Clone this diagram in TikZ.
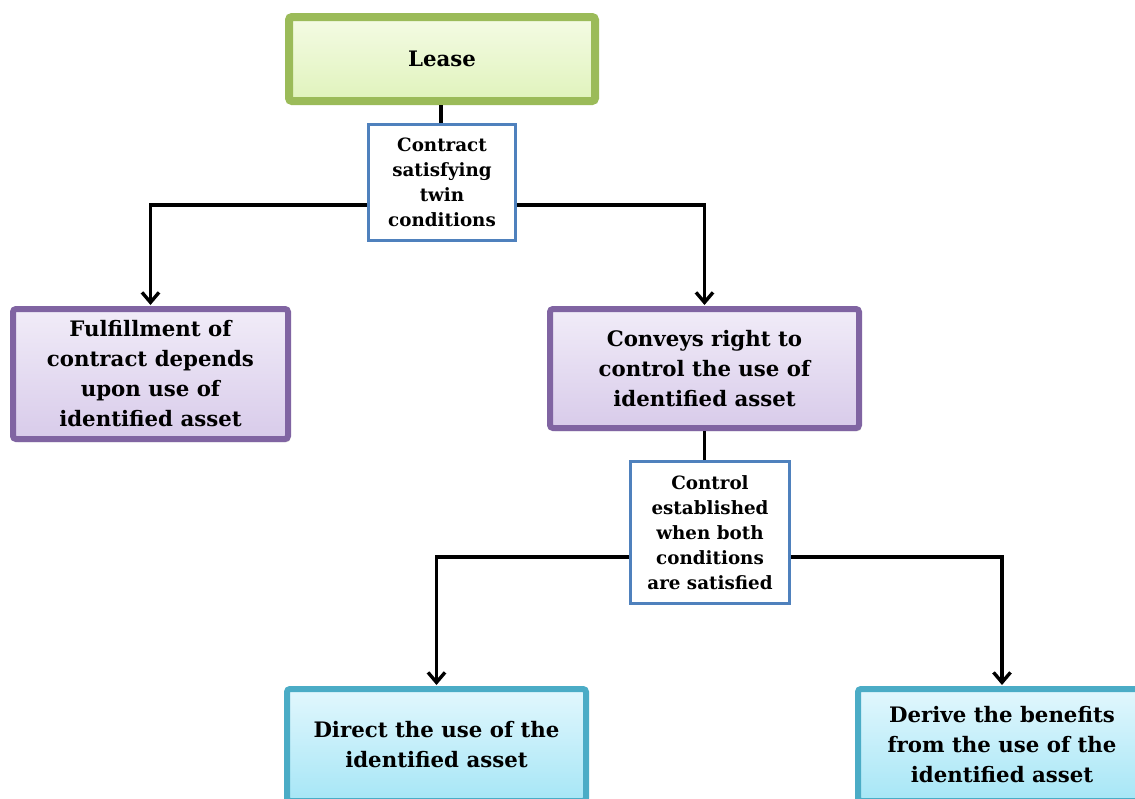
\documentclass[tikz,border=0pt]{standalone}
\usepackage{fontspec}
\setmainfont{DejaVu Serif}
\usetikzlibrary{arrows.meta,shadows,calc}
\definecolor{gborder}{HTML}{9BBB59}
\definecolor{gtop}{HTML}{F4FBE4}
\definecolor{gbot}{HTML}{E0F3BC}
\definecolor{pborder}{HTML}{8064A2}
\definecolor{ptop}{HTML}{F1ECF8}
\definecolor{pbot}{HTML}{D8CBEA}
\definecolor{cborder}{HTML}{4BACC6}
\definecolor{ctop}{HTML}{E2F7FD}
\definecolor{cbot}{HTML}{A6E6F6}
\definecolor{bborder}{HTML}{4F81BD}
\tikzset{
  x=1pt,y=-1pt,
  bigbox/.style={draw, rounded corners=3pt, align=center, font=\bfseries\fontsize{21.3}{30}\selectfont,
    inner sep=0pt, drop shadow={shadow xshift=2pt,shadow yshift=-3pt,opacity=0.35}},
  greenbox/.style={bigbox, draw=gborder, line width=8pt, top color=gtop, bottom color=gbot},
  purplebox/.style={bigbox, draw=pborder, line width=6pt, top color=ptop, bottom color=pbot},
  cyanbox/.style={bigbox, draw=cborder, line width=6pt, top color=ctop, bottom color=cbot},
  smallbox/.style={draw=bborder, line width=3pt, fill=white, align=center, inner sep=0pt,
    font=\bfseries\fontsize{18.3}{25}\selectfont},
  conn/.style={line width=3.2pt, black},
  arr/.style={conn, -{Straight Barb[length=10pt,width=17pt,line width=3.4pt]}, shorten >=1pt},
}
\begin{document}
\begin{tikzpicture}
\useasboundingbox (0,0) rectangle (1135,798);
\clip (0,0) rectangle (1135,798);
\fill[white] (0,0) rectangle (1135,798);
\node[greenbox, minimum width=306pt, minimum height=84pt] (lease) at (442,59) {Lease};
\node[smallbox, minimum width=147pt, minimum height=116pt] (contract) at (442,182.5) {Contract\\satisfying\\twin\\conditions};
\node[purplebox, minimum width=275pt, minimum height=130pt] (fulfil) at (150.5,374) {Fulfillment of\\contract depends\\upon use of\\identified asset};
\node[purplebox, minimum width=309pt, minimum height=119pt] (conveys) at (704.5,368.5) {Conveys right to\\control the use of\\identified asset};
\node[smallbox, minimum width=159pt, minimum height=142pt] (control) at (710,532.5) {Control\\established\\when both\\conditions\\are satisfied};
\node[cyanbox, minimum width=299pt, minimum height=112pt] (direct) at (436.5,745) {Direct the use of the\\identified asset};
\node[cyanbox, minimum width=288pt, minimum height=112pt] (derive) at (1002,745) {Derive the benefits\\from the use of the\\identified asset};
\coordinate (cy) at (0,205);
\coordinate (dy) at (0,557);
\draw[conn] (lease.south -| 441,0) -- (contract.north -| 441,0);
\draw[arr] (contract.west |- cy) -| (fulfil.north);
\draw[arr] (contract.east |- cy) -| (conveys.north);
\draw[conn] (conveys.south) -- (control.north -| conveys.south);
\draw[arr] (control.west |- dy) -| (direct.north);
\draw[arr] (control.east |- dy) -| (derive.north);
\end{tikzpicture}
\end{document}
